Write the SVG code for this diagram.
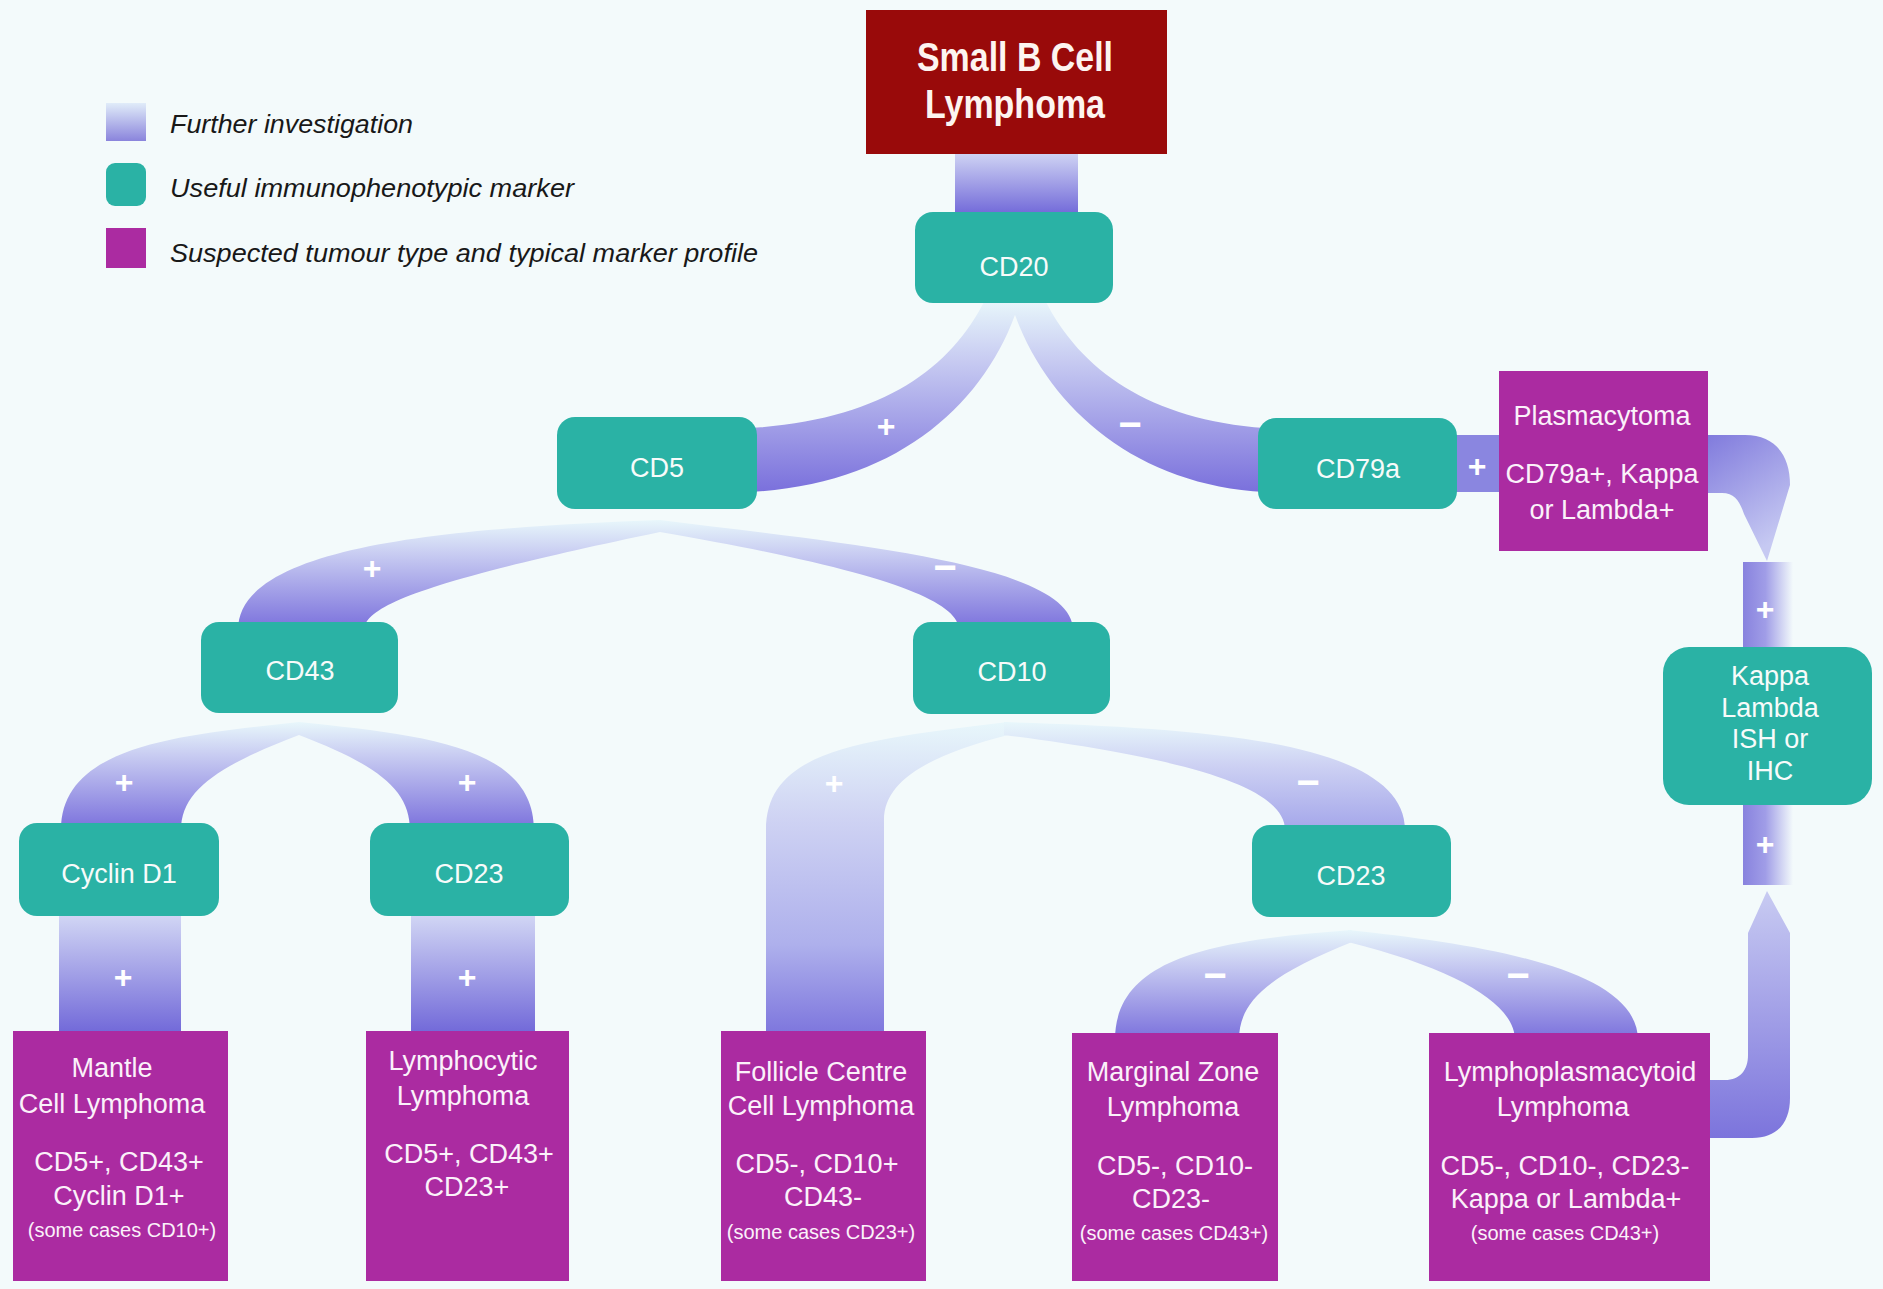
<svg xmlns="http://www.w3.org/2000/svg" width="1883" height="1289" viewBox="0 0 1883 1289">
  <defs>
    <style>
      .bg { fill: #f3fafb; }
      .marker { fill: #2ab2a5; }
      .tumour { fill: #ab2ba1; }
      .title { fill: #990a0a; }
      .lbl { font-family: "Liberation Sans", Arial, sans-serif; font-size: 27px; fill: #f7fbfa; text-anchor: middle; }
      .lblm { font-family: "Liberation Sans", Arial, sans-serif; font-size: 27px; fill: #fbf1fa; text-anchor: middle; }
      .small { font-family: "Liberation Sans", Arial, sans-serif; font-size: 20px; fill: #fbf1fa; text-anchor: middle; }
      .head { font-family: "Liberation Sans", Arial, sans-serif; font-size: 40px; font-weight: bold; fill: #fdf4f0; text-anchor: middle; }
      .legend { font-family: "Liberation Sans", Arial, sans-serif; font-size: 25.5px; font-style: italic; fill: #181818; }
      .sign { font-family: "Liberation Sans", Arial, sans-serif; font-size: 32px; font-weight: bold; fill: #ffffff; text-anchor: middle; dominant-baseline: central; }
      .neg { font-size: 40px; }
    </style>
    <!-- ribbon fill: pale where it leaves a marker, deep violet where it arrives -->
    <linearGradient id="rib" x1="0" y1="0" x2="0" y2="1">
      <stop offset="0" stop-color="#e8f7fb"/>
      <stop offset="0.3" stop-color="#c9cdf2"/>
      <stop offset="1" stop-color="#7a70dc"/>
    </linearGradient>
    <linearGradient id="ribLong" x1="0" y1="0" x2="0" y2="1">
      <stop offset="0" stop-color="#e8f7fb"/>
      <stop offset="0.3" stop-color="#cfd3f3"/>
      <stop offset="0.7" stop-color="#aeb0ec"/>
      <stop offset="1" stop-color="#7a72dc"/>
    </linearGradient>
    <linearGradient id="ribLight" x1="0" y1="0" x2="0" y2="1">
      <stop offset="0" stop-color="#e8f7fb"/>
      <stop offset="0.4" stop-color="#cdd1f3"/>
      <stop offset="1" stop-color="#a4a6ea"/>
    </linearGradient>
    <linearGradient id="bar" x1="0" y1="0" x2="0" y2="1">
      <stop offset="0" stop-color="#d4d9f5"/>
      <stop offset="1" stop-color="#6f66d8"/>
    </linearGradient>
    <linearGradient id="side" x1="0" y1="0" x2="1" y2="0">
      <stop offset="0" stop-color="#8882de"/>
      <stop offset="0.45" stop-color="#a09de7"/>
      <stop offset="1" stop-color="#f3fafb"/>
    </linearGradient>
    <linearGradient id="hook" x1="0" y1="0" x2="0.5" y2="1">
      <stop offset="0" stop-color="#7e78dc"/>
      <stop offset="1" stop-color="#c6c9f2"/>
    </linearGradient>
    <linearGradient id="ret" x1="0" y1="0" x2="0" y2="1">
      <stop offset="0" stop-color="#c8cbf2"/>
      <stop offset="1" stop-color="#7c74dc"/>
    </linearGradient>
    <linearGradient id="swatch" x1="0" y1="0" x2="0" y2="1">
      <stop offset="0" stop-color="#e0ecf9"/>
      <stop offset="1" stop-color="#8a84dc"/>
    </linearGradient>
  </defs>

  <rect class="bg" x="0" y="0" width="1883" height="1289"/>

  <!-- legend -->
  <g id="legend">
    <rect x="106" y="103" width="40" height="38" fill="url(#swatch)"/>
    <rect class="marker" x="106" y="163" width="40" height="43" rx="9"/>
    <rect class="tumour" x="106" y="228" width="40" height="40"/>
    <text class="legend" x="170" y="133" textLength="243" lengthAdjust="spacingAndGlyphs">Further investigation</text>
    <text class="legend" x="170" y="197" textLength="404" lengthAdjust="spacingAndGlyphs">Useful immunophenotypic marker</text>
    <text class="legend" x="170" y="262" textLength="588" lengthAdjust="spacingAndGlyphs">Suspected tumour type and typical marker profile</text>
  </g>

  <!-- connectors -->
  <g id="connectors">
    <!-- lymphoma to CD20 -->
    <rect x="955" y="150" width="123" height="66" fill="url(#bar)"/>
    <!-- CD20 branches -->
    <path d="M 985 300 C 950 370, 880 420, 750 428 L 750 492 C 900 485, 990 400, 1020 300 Z" fill="url(#rib)"/>
    <path d="M 1045 300 C 1080 370, 1150 420, 1265 428 L 1265 492 C 1130 485, 1040 400, 1010 300 Z" fill="url(#rib)"/>
    <!-- CD79a to plasmacytoma -->
    <rect x="1450" y="435" width="56" height="57" fill="#8a86e0"/>
    <!-- plasmacytoma down to kappa/lambda -->
    <path d="M 1700 435 L 1745 435 C 1775 435, 1790 455, 1790 485 L 1767 561 L 1744 514 C 1740 502, 1735 493, 1722 493 L 1700 493 Z" fill="url(#hook)"/>
    <rect x="1743" y="562" width="50" height="90" fill="url(#side)"/>
    <rect x="1743" y="800" width="50" height="85" fill="url(#side)"/>
    <!-- lymphoplasmacytoid up to kappa/lambda -->
    <path d="M 1700 1080 L 1725 1080 C 1740 1080, 1748 1070, 1748 1055 L 1748 933 L 1767 891 L 1790 933 L 1790 1098 C 1790 1122, 1778 1138, 1752 1138 L 1700 1138 Z" fill="url(#ret)"/>
    <!-- CD5 branches -->
    <path d="M 660 520 C 450 528, 238 545, 238 630 L 364 630 C 365 605, 430 580, 660 532 Z" fill="url(#rib)"/>
    <path d="M 660 520 C 860 545, 1073 565, 1073 630 L 959 630 C 959 600, 880 570, 660 532 Z" fill="url(#rib)"/>
    <!-- CD43 branches -->
    <path d="M 299 722 C 180 735, 61 745, 61 830 L 181 830 C 181 790, 220 765, 299 735 Z" fill="url(#rib)"/>
    <path d="M 299 722 C 420 735, 534 745, 534 830 L 410 830 C 410 790, 378 765, 299 735 Z" fill="url(#rib)"/>
    <!-- marker to tumour bars -->
    <rect x="59" y="912" width="122" height="124" fill="url(#bar)"/>
    <rect x="411" y="912" width="124" height="124" fill="url(#bar)"/>
    <!-- CD10 branches -->
    <path d="M 1008 722 C 860 740, 766 750, 766 830 L 766 1040 L 884 1040 L 884 820 C 884 780, 930 755, 1008 735 Z" fill="url(#ribLong)"/>
    <path d="M 1004 722 C 1200 728, 1405 740, 1405 830 L 1285 830 C 1285 790, 1200 760, 1004 735 Z" fill="url(#ribLight)"/>
    <!-- CD23 (right) branches -->
    <path d="M 1352 930 C 1220 940, 1115 955, 1115 1040 L 1239 1040 C 1239 1000, 1270 975, 1352 942 Z" fill="url(#rib)"/>
    <path d="M 1348 930 C 1490 945, 1638 970, 1638 1040 L 1515 1040 C 1515 1005, 1460 970, 1348 942 Z" fill="url(#rib)"/>

    <!-- branch signs -->
    <text class="sign" x="886" y="426">+</text>
    <text class="sign neg" x="1130" y="424">−</text>
    <text class="sign" x="1477" y="466">+</text>
    <text class="sign" x="372" y="568">+</text>
    <text class="sign neg" x="945" y="567">−</text>
    <text class="sign" x="124" y="782">+</text>
    <text class="sign" x="467" y="782">+</text>
    <text class="sign" x="834" y="783">+</text>
    <text class="sign neg" x="1308" y="782">−</text>
    <text class="sign" x="123" y="977">+</text>
    <text class="sign" x="467" y="977">+</text>
    <text class="sign neg" x="1215" y="975">−</text>
    <text class="sign neg" x="1518" y="975">−</text>
    <text class="sign" x="1765" y="609">+</text>
    <text class="sign" x="1765" y="844">+</text>
  </g>

  <!-- nodes -->
  <g id="n-root">
    <rect class="title" x="866" y="10" width="301" height="144"/>
    <text class="head" x="1015" y="71" textLength="196" lengthAdjust="spacingAndGlyphs">Small B Cell</text>
    <text class="head" x="1015" y="118" textLength="180" lengthAdjust="spacingAndGlyphs">Lymphoma</text>
  </g>
  <g id="n-cd20">
    <rect class="marker" x="915" y="212" width="198" height="91" rx="18"/>
    <text class="lbl" x="1014" y="276">CD20</text>
  </g>
  <g id="n-cd5">
    <rect class="marker" x="557" y="417" width="200" height="92" rx="18"/>
    <text class="lbl" x="657" y="477">CD5</text>
  </g>
  <g id="n-cd79a">
    <rect class="marker" x="1258" y="418" width="199" height="91" rx="18"/>
    <text class="lbl" x="1358" y="478">CD79a</text>
  </g>
  <g id="n-plasmacytoma">
    <rect class="tumour" x="1499" y="371" width="209" height="180"/>
    <text class="lblm" x="1602" y="425">Plasmacytoma</text>
    <text class="lblm" x="1602" y="483">CD79a+, Kappa</text>
    <text class="lblm" x="1602" y="519">or Lambda+</text>
  </g>
  <g id="n-cd43">
    <rect class="marker" x="201" y="622" width="197" height="91" rx="18"/>
    <text class="lbl" x="300" y="680">CD43</text>
  </g>
  <g id="n-cd10">
    <rect class="marker" x="913" y="622" width="197" height="92" rx="18"/>
    <text class="lbl" x="1012" y="681">CD10</text>
  </g>
  <g id="n-kappa">
    <rect class="marker" x="1663" y="647" width="209" height="158" rx="26"/>
    <text class="lbl" x="1770" y="685">Kappa</text>
    <text class="lbl" x="1770" y="717">Lambda</text>
    <text class="lbl" x="1770" y="748">ISH or</text>
    <text class="lbl" x="1770" y="780">IHC</text>
  </g>
  <g id="n-cyclin">
    <rect class="marker" x="19" y="823" width="200" height="93" rx="18"/>
    <text class="lbl" x="119" y="883">Cyclin D1</text>
  </g>
  <g id="n-cd23a">
    <rect class="marker" x="370" y="823" width="199" height="93" rx="18"/>
    <text class="lbl" x="469" y="883">CD23</text>
  </g>
  <g id="n-cd23b">
    <rect class="marker" x="1252" y="825" width="199" height="92" rx="18"/>
    <text class="lbl" x="1351" y="885">CD23</text>
  </g>
  <g id="n-mantle">
    <rect class="tumour" x="13" y="1031" width="215" height="250"/>
    <text class="lblm" x="112" y="1077">Mantle</text>
    <text class="lblm" x="112" y="1113">Cell Lymphoma</text>
    <text class="lblm" x="119" y="1171">CD5+, CD43+</text>
    <text class="lblm" x="119" y="1205">Cyclin D1+</text>
    <text class="small" x="122" y="1237">(some cases CD10+)</text>
  </g>
  <g id="n-lymphocytic">
    <rect class="tumour" x="366" y="1031" width="203" height="250"/>
    <text class="lblm" x="463" y="1070">Lymphocytic</text>
    <text class="lblm" x="463" y="1105">Lymphoma</text>
    <text class="lblm" x="469" y="1163">CD5+, CD43+</text>
    <text class="lblm" x="467" y="1196">CD23+</text>
  </g>
  <g id="n-follicle">
    <rect class="tumour" x="721" y="1031" width="205" height="250"/>
    <text class="lblm" x="821" y="1081">Follicle Centre</text>
    <text class="lblm" x="821" y="1115">Cell Lymphoma</text>
    <text class="lblm" x="817" y="1173">CD5-, CD10+</text>
    <text class="lblm" x="823" y="1206">CD43-</text>
    <text class="small" x="821" y="1239">(some cases CD23+)</text>
  </g>
  <g id="n-marginal">
    <rect class="tumour" x="1072" y="1033" width="206" height="248"/>
    <text class="lblm" x="1173" y="1081">Marginal Zone</text>
    <text class="lblm" x="1173" y="1116">Lymphoma</text>
    <text class="lblm" x="1175" y="1175">CD5-, CD10-</text>
    <text class="lblm" x="1171" y="1208">CD23-</text>
    <text class="small" x="1174" y="1240">(some cases CD43+)</text>
  </g>
  <g id="n-lymphoplasmacytoid">
    <rect class="tumour" x="1429" y="1033" width="281" height="248"/>
    <text class="lblm" x="1570" y="1081">Lymphoplasmacytoid</text>
    <text class="lblm" x="1563" y="1116">Lymphoma</text>
    <text class="lblm" x="1565" y="1175">CD5-, CD10-, CD23-</text>
    <text class="lblm" x="1566" y="1208">Kappa or Lambda+</text>
    <text class="small" x="1565" y="1240">(some cases CD43+)</text>
  </g>
</svg>
